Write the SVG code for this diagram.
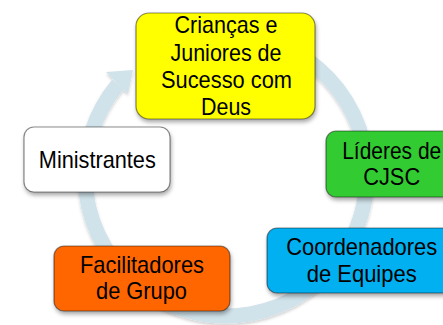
<svg xmlns="http://www.w3.org/2000/svg" width="443" height="325" viewBox="0 0 443 325">
<style>
.box{stroke:#000;stroke-opacity:0.45;stroke-width:1.2;filter:url(#sh)}
.t{font-family:"Liberation Sans",Arial,sans-serif;font-size:24px;fill:#000;text-anchor:middle}
</style>
<defs>
<filter id="sh" x="-20%" y="-20%" width="140%" height="150%">
<feDropShadow dx="1" dy="3" stdDeviation="2" flood-color="#000" flood-opacity="0.35"/>
</filter>
<filter id="rsh" x="-20%" y="-20%" width="140%" height="140%">
<feDropShadow dx="0" dy="2" stdDeviation="1.5" flood-color="#000" flood-opacity="0.18"/>
</filter>
</defs>
<g id="connectors" filter="url(#rsh)">
<path d="M296.5,52.9 A141,141 0 1 1 118,84.4" fill="none" stroke="#D0E2EA" stroke-width="15"/>
<polygon points="106,72 133,70 128,94" fill="#D0E2EA"/>
</g>
<g id="n1">
<rect class="box" x="136" y="13" width="179" height="106" rx="13" fill="#FFFF00"/>
<text class="t" x="226" y="33" textLength="103" lengthAdjust="spacingAndGlyphs">Crianças e</text>
<text class="t" x="226" y="60.5" textLength="111" lengthAdjust="spacingAndGlyphs">Juniores de</text>
<text class="t" x="226.5" y="88" textLength="131" lengthAdjust="spacingAndGlyphs">Sucesso com</text>
<text class="t" x="226" y="115" textLength="50" lengthAdjust="spacingAndGlyphs">Deus</text>
</g>
<g id="n2">
<rect class="box" x="326" y="131" width="132" height="66" rx="10" fill="#33CC33"/>
<text class="t" x="391.7" y="158.5" textLength="99" lengthAdjust="spacingAndGlyphs">Líderes de</text>
<text class="t" x="391.7" y="185" textLength="57" lengthAdjust="spacingAndGlyphs">CJSC</text>
</g>
<g id="n3">
<rect class="box" x="267" y="228" width="192" height="65" rx="10" fill="#00B0F0"/>
<text class="t" x="361.7" y="255" textLength="151" lengthAdjust="spacingAndGlyphs">Coordenadores</text>
<text class="t" x="361.7" y="281.5" textLength="110" lengthAdjust="spacingAndGlyphs">de Equipes</text>
</g>
<g id="n4">
<rect class="box" x="54" y="246" width="176" height="65" rx="10" fill="#FF6600"/>
<text class="t" x="142" y="272.5" textLength="124" lengthAdjust="spacingAndGlyphs">Facilitadores</text>
<text class="t" x="141.5" y="298.5" textLength="91" lengthAdjust="spacingAndGlyphs">de Grupo</text>
</g>
<g id="n5">
<rect class="box" x="24" y="127" width="146" height="65" rx="10" fill="#FFFFFF"/>
<text class="t" x="97.3" y="167.5" textLength="117" lengthAdjust="spacingAndGlyphs">Ministrantes</text>
</g>
</svg>
